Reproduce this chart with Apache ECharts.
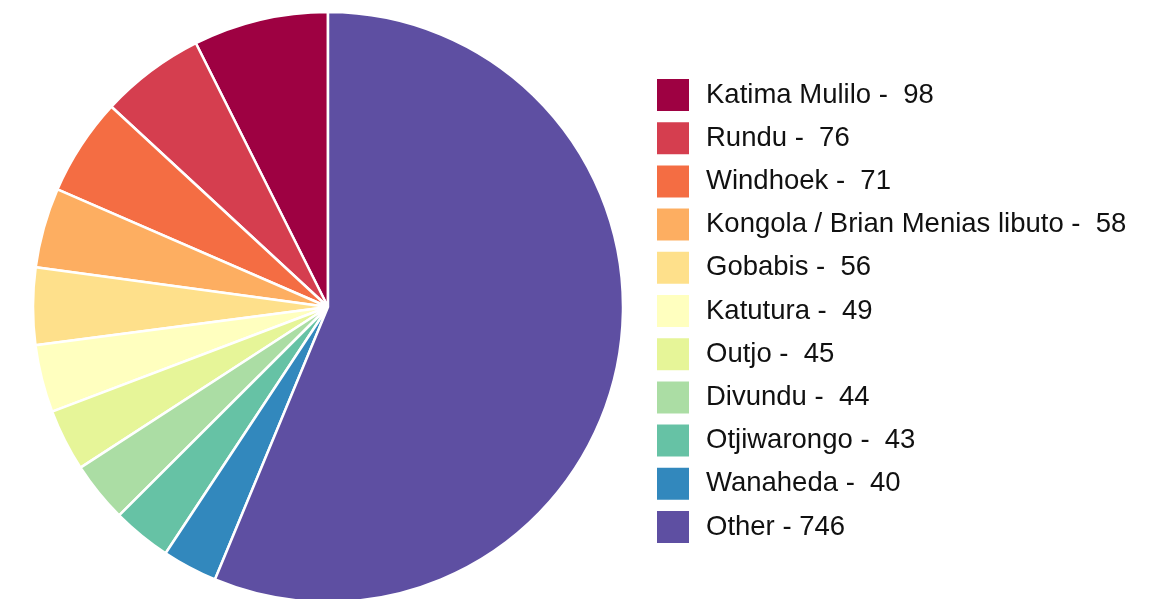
<!DOCTYPE html>
<html>
<head>
<meta charset="utf-8">
<script src="https://cdn.jsdelivr.net/npm/echarts@6/dist/echarts.min.js"></script>
<style>
  html, body { margin: 0; padding: 0; background: #fff; }
  #chart { width: 1164px; height: 599px; }
</style>
</head>
<body>
<div id="chart"></div>
<script>
const categories = [
  "Katima Mulilo", "Rundu", "Windhoek", "Kongola / Brian Menias libuto",
  "Gobabis", "Katutura", "Outjo", "Divundu", "Otjiwarongo", "Wanaheda", "Other"
];
const counts = [98, 76, 71, 58, 56, 49, 45, 44, 43, 40, 746];
const colors = [
  "#9E0142", "#D53E4F", "#F46D43", "#FDAE61", "#FEE08B", "#FFFFBF",
  "#E6F598", "#ABDDA4", "#66C2A5", "#3288BD", "#5E4FA2"
];

const valueOf = {};
categories.forEach((c, i) => { valueOf[c] = counts[i]; });

const chart = echarts.init(document.getElementById("chart"), null, { renderer: "canvas" });

chart.setOption({
  animation: false,
  color: colors,
  legend: {
    orient: "vertical",
    left: 655,
    top: 77,
    padding: 0,
    itemWidth: 34,
    itemHeight: 34,
    itemGap: 7.2,
    icon: "rect",
    data: categories,
    formatter(name) {
      return name + " - " + String(valueOf[name]).padStart(3, " ");
    },
    textStyle: {
      fontFamily: "Liberation Sans, Arial, sans-serif",
      fontSize: 27.5,
      lineHeight: 33,
      color: "#111",
      padding: [0, 0, 0, 11]
    }
  },
  series: [
    {
      type: "pie",
      center: [328, 307],
      radius: 295,
      startAngle: 90,
      clockwise: false,
      label: { show: false },
      labelLine: { show: false },
      itemStyle: { borderColor: "#fff", borderWidth: 2.5 },
      emphasis: { disabled: true },
      data: categories.map((c, i) => ({ name: c, value: counts[i] }))
    }
  ]
});
</script>
</body>
</html>
